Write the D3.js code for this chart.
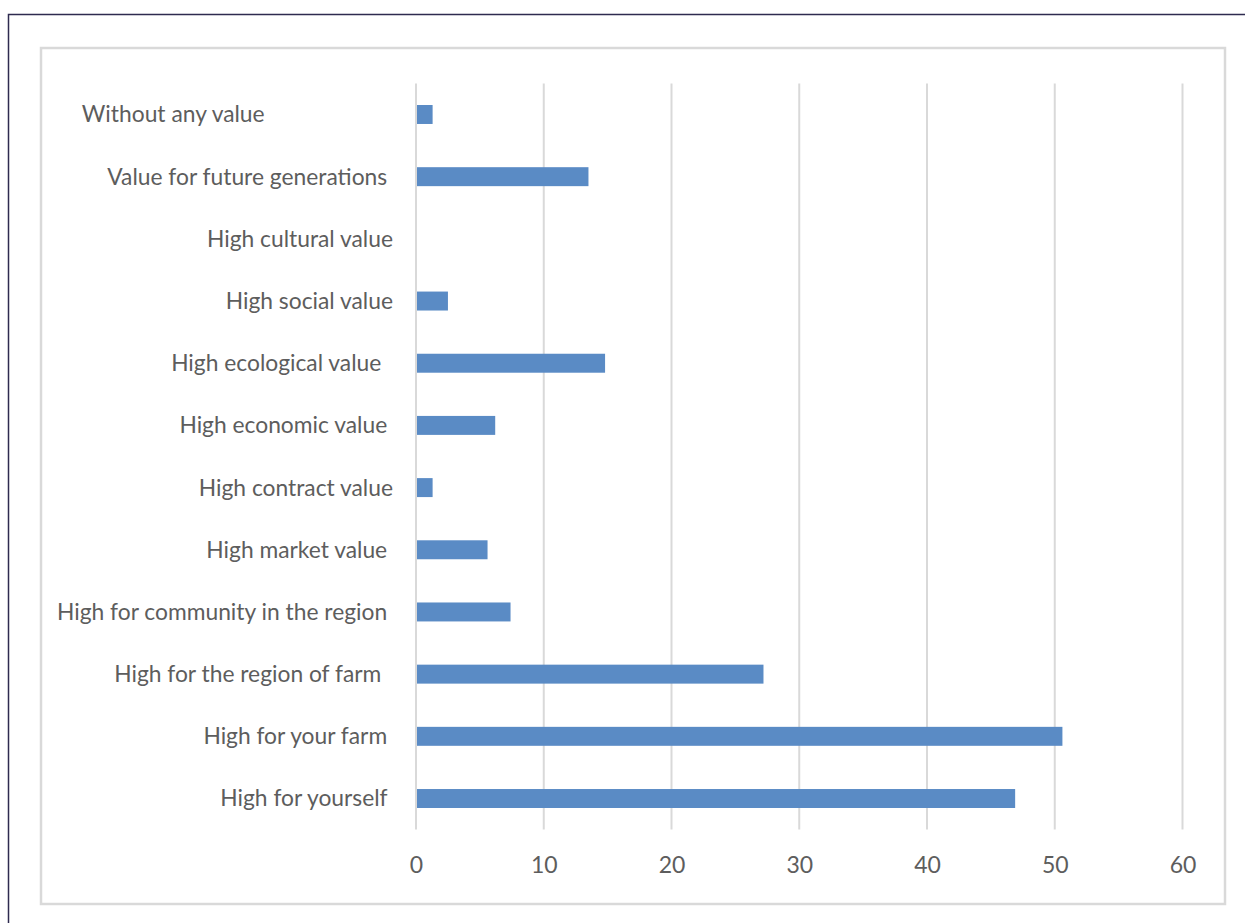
<!DOCTYPE html>
<html><head><meta charset="utf-8">
<script src="https://cdn.jsdelivr.net/npm/d3@7"></script>
<style>
html,body{margin:0;padding:0;background:#fff;}
svg{display:block;}
text{font-family:Lato,"Open Sans",sans-serif;fill:#5d5d5d;}
</style></head>
<body>
<svg id="c" width="1245" height="923"></svg>
<script>
const categories = [
  "Without any value                      ",
  "Value for future generations ",
  "High cultural value",
  "High social value",
  "High ecological value  ",
  "High economic value ",
  "High contract value",
  "High market value ",
  "High for community in the region ",
  "High for the region of farm  ",
  "High for your farm ",
  "High for yourself "
];
const values = [1.3, 13.5, 0, 2.5, 14.8, 6.2, 1.3, 5.6, 7.4, 27.2, 50.6, 46.9];
const tickValues = [0, 10, 20, 30, 40, 50, 60];

const svg = d3.select("#c");
// outer frame
svg.append("path").attr("d","M8.5,923 L8.5,14.5 L1245,14.5")
  .attr("fill","none").attr("stroke","#2e2b4f").attr("stroke-width",1.5);
// inner box
svg.append("rect").attr("x",41).attr("y",48).attr("width",1184).attr("height",856)
  .attr("fill","#fff").attr("stroke","#d9d9d9").attr("stroke-width",2.5);

const x = d3.scaleLinear().domain([0,60]).range([416,1182.5]);
const y = d3.scaleBand().domain(categories).range([83.4,829.6]).paddingInner(0.695).paddingOuter(0.3475);

// gridlines
svg.append("g").selectAll("line").data(tickValues).join("line")
  .attr("x1",d=>x(d)).attr("x2",d=>x(d)).attr("y1",83.4).attr("y2",829.6)
  .attr("stroke","#d9d9d9").attr("stroke-width",2);

// bars
svg.append("g").selectAll("rect").data(values).join("rect")
  .attr("x",x(0)+1).attr("y",(d,i)=>y(categories[i]))
  .attr("width",d=>Math.max(0,x(d)-x(0)-1)).attr("height",y.bandwidth())
  .attr("fill","#5a8bc5");

// x axis
const xa = svg.append("g").attr("transform","translate(0,829.6)")
  .call(d3.axisBottom(x).tickValues(tickValues).tickSize(0).tickPadding(27));
xa.select(".domain").remove();
xa.selectAll("text").attr("font-size",23).attr("fill","#5d5d5d").style("font-family","Lato");

// y labels
svg.append("g").selectAll("text").data(categories).join("text")
  .attr("x",393).attr("y",d=>y(d)+y.bandwidth()/2).attr("dy","0.35em")
  .attr("text-anchor","end").attr("font-size",22.8)
  .style("white-space","pre").text(d=>d);
</script>
</body></html>
